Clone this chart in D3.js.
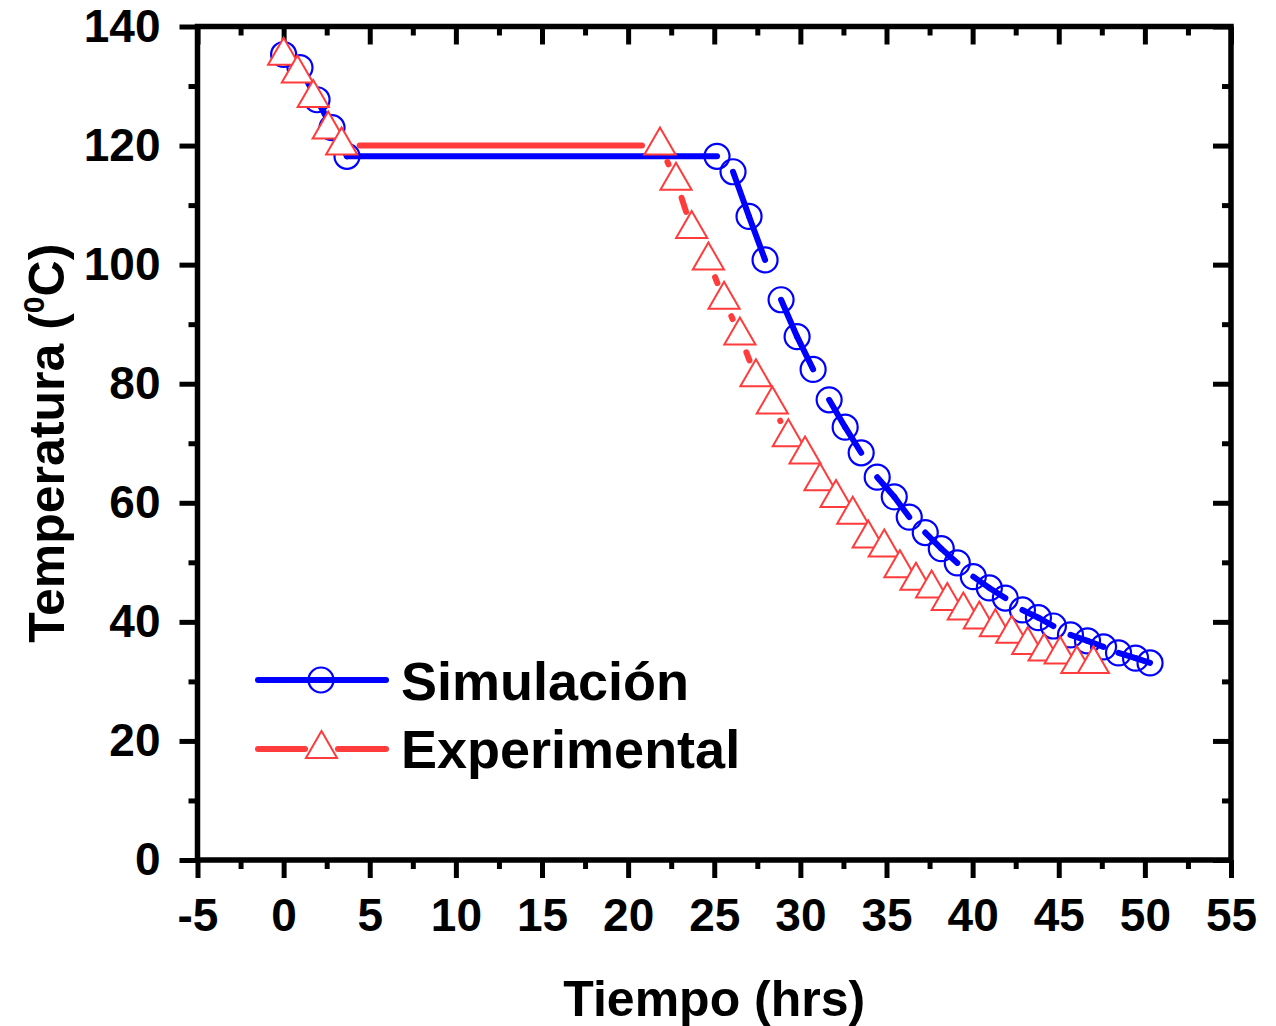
<!DOCTYPE html>
<html>
<head>
<meta charset="utf-8">
<script src="https://cdn.jsdelivr.net/npm/d3@7"></script>
<style>
    body { margin: 0; background: #fff; }
    svg { display: block; font-family: "Liberation Sans", Arial, sans-serif; font-weight: bold; }
    .axis text { font-size: 46px; font-weight: bold; fill: #000; font-family: "Liberation Sans", Arial, sans-serif; }
    .axis line { stroke: #000; stroke-width: 5; }
    .axis .domain { display: none; }
</style>
</head>
<body>
<svg width="1276" height="1026"></svg>
<script>
// Simulación (hrs, °C)
let simTime = [0, 0.95, 1.94, 2.81, 3.68, 25.16, 26.09, 27.02, 27.95, 28.88, 29.81, 30.74, 31.67, 32.60,
    33.53, 34.46, 35.45, 36.32, 37.25, 38.18, 39.11, 40.04, 40.97, 41.90, 42.89, 43.82, 44.69, 45.68,
    46.67, 47.60, 48.47, 49.46, 50.30];
let simTemp = [135.3, 133.1, 127.7, 123.0, 118.2, 118.2, 115.6, 108.1, 100.8, 94.1, 87.9, 82.4, 77.3, 72.7,
    68.4, 64.3, 61.0, 57.6, 55.0, 52.3, 49.9, 47.6, 45.7, 44.0, 42.0, 40.7, 39.3, 37.8,
    36.8, 35.8, 34.8, 33.9, 33.1];

// Experimental
let expTime = [0, 0.8, 1.72, 2.59, 3.37, 21.85, 22.78, 23.69, 24.66, 25.57, 26.49, 27.42, 28.37, 29.30,
    30.27, 31.14, 32.07, 33.04, 33.94, 34.87, 35.78, 36.71, 37.62, 38.53, 39.46, 40.39, 41.32, 42.27,
    43.20, 44.15, 45.08, 46.05, 47.01];
let expTemp = [135.1, 132.1, 128.0, 122.7, 120.0, 120.0, 114.1, 106.0, 100.7, 94.1, 88.1, 81.1, 76.5, 71.0,
    68.1, 63.6, 60.8, 58.0, 54.0, 52.5, 49.0, 46.9, 45.6, 43.5, 41.9, 40.4, 39.1, 38.0,
    36.1, 35.0, 34.5, 32.9, 32.9];

let xTicks = [-5, 0, 5, 10, 15, 20, 25, 30, 35, 40, 45, 50, 55];
let yTicks = [0, 20, 40, 60, 80, 100, 120, 140];
let seriesNames = ["Simulación", "Experimental"];

let blue = "#0000ff", red = "#ff3b3b";

let svg = d3.select("svg"),
    margin = {top: 26.5, right: 45, bottom: 166, left: 197.5},
    width = +svg.attr("width") - margin.left - margin.right,
    height = +svg.attr("height") - margin.top - margin.bottom;

let x = d3.scaleLinear().domain([-5, 55]).range([0, width]),
    y = d3.scaleLinear().domain([0, 140]).range([height, 0]);

let xMinor = d3.range(-2.5, 55, 5),
    yMinor = d3.range(10, 140, 20);

let g = svg.append("g")
    .attr("transform", "translate(" + margin.left + "," + margin.top + ")");

// axes: bottom/left outward, top/right inward
g.append("g").attr("class", "axis")
    .attr("transform", "translate(0," + height + ")")
    .call(d3.axisBottom(x).tickValues(xTicks).tickSize(18).tickSizeOuter(0).tickPadding(20)
        .tickFormat(d => String(d)))
    .selectAll("text").attr("dy", "0.71em");
g.append("g").attr("class", "axis")
    .attr("transform", "translate(0," + height + ")")
    .call(d3.axisBottom(x).tickValues(xMinor).tickSize(9).tickSizeOuter(0).tickFormat(""));
g.append("g").attr("class", "axis")
    .call(d3.axisTop(x).tickValues(xTicks).tickSize(-18).tickSizeOuter(0).tickFormat(""));
g.append("g").attr("class", "axis")
    .call(d3.axisTop(x).tickValues(xMinor).tickSize(-9).tickSizeOuter(0).tickFormat(""));

g.append("g").attr("class", "axis")
    .call(d3.axisLeft(y).tickValues(yTicks).tickSize(18).tickSizeOuter(0).tickPadding(19));
g.append("g").attr("class", "axis")
    .call(d3.axisLeft(y).tickValues(yMinor).tickSize(9).tickSizeOuter(0).tickFormat(""));
g.append("g").attr("class", "axis")
    .attr("transform", "translate(" + width + ",0)")
    .call(d3.axisRight(y).tickValues(yTicks).tickSize(-18).tickSizeOuter(0).tickFormat(""));
g.append("g").attr("class", "axis")
    .attr("transform", "translate(" + width + ",0)")
    .call(d3.axisRight(y).tickValues(yMinor).tickSize(-9).tickSizeOuter(0).tickFormat(""));

g.append("rect")
    .attr("width", width)
    .attr("height", height)
    .attr("fill", "none")
    .attr("stroke", "#000")
    .attr("stroke-width", 5.5);

let sim = simTime.map((t, i) => ({t: t, v: simTemp[i]}));
let exp = expTime.map((t, i) => ({t: t, v: expTemp[i]}));

// simulation line: drawn in runs, one interval in three left open
let simSegs = [];
for (let i = 0; i < sim.length - 1; i++) {
    if (i === 0 || (i >= 5 && (i - 5) % 3 === 0)) continue;
    simSegs.push([sim[i], sim[i + 1]]);
}
g.selectAll(".simseg")
    .data(simSegs)
    .enter().append("line")
    .attr("class", "simseg")
    .attr("x1", d => x(d[0].t)).attr("y1", d => y(d[0].v))
    .attr("x2", d => x(d[1].t)).attr("y2", d => y(d[1].v))
    .attr("stroke", blue)
    .attr("stroke-width", 6)
    .attr("stroke-linecap", "round");

g.selectAll(".simpt")
    .data(sim)
    .enter().append("circle")
    .attr("class", "simpt")
    .attr("cx", d => x(d.t))
    .attr("cy", d => y(d.v))
    .attr("r", 12.5)
    .attr("fill", "none")
    .attr("stroke", blue)
    .attr("stroke-width", 2.2);

// experimental line with gap to symbol
let gap = 18;
let expSegs = [];
for (let i = 0; i < exp.length - 1; i++) {
    let x1 = x(exp[i].t), y1 = y(exp[i].v), x2 = x(exp[i + 1].t), y2 = y(exp[i + 1].v);
    let len = Math.hypot(x2 - x1, y2 - y1);
    if (len <= 2 * gap) continue;
    let ux = (x2 - x1) / len, uy = (y2 - y1) / len;
    expSegs.push([x1 + ux * gap, y1 + uy * gap, x2 - ux * gap, y2 - uy * gap]);
}
g.selectAll(".expseg")
    .data(expSegs)
    .enter().append("line")
    .attr("class", "expseg")
    .attr("x1", d => d[0]).attr("y1", d => d[1])
    .attr("x2", d => d[2]).attr("y2", d => d[3])
    .attr("stroke", red)
    .attr("stroke-width", 6)
    .attr("stroke-linecap", "round");

let tri = d3.symbol().type(d3.symbolTriangle).size(420);
g.selectAll(".exppt")
    .data(exp)
    .enter().append("path")
    .attr("class", "exppt")
    .attr("transform", d => "translate(" + x(d.t) + "," + y(d.v) + ")")
    .attr("d", tri)
    .attr("fill", "#fff")
    .attr("stroke", red)
    .attr("stroke-width", 2);

// legend
let legend = svg.append("g").attr("transform", "translate(258,680)");
legend.append("line")
    .attr("x1", 0).attr("x2", 128).attr("y1", 0).attr("y2", 0)
    .attr("stroke", blue).attr("stroke-width", 6).attr("stroke-linecap", "round");
legend.append("circle")
    .attr("cx", 63).attr("cy", 0).attr("r", 12.5)
    .attr("fill", "none").attr("stroke", blue).attr("stroke-width", 2.2);
legend.append("text")
    .attr("x", 143).attr("y", 20)
    .attr("font-size", 54)
    .text(seriesNames[0]);

let leg2 = legend.append("g").attr("transform", "translate(0,69)");
leg2.append("line")
    .attr("x1", 0).attr("x2", 47).attr("y1", 0).attr("y2", 0)
    .attr("stroke", red).attr("stroke-width", 6).attr("stroke-linecap", "round");
leg2.append("line")
    .attr("x1", 80).attr("x2", 128).attr("y1", 0).attr("y2", 0)
    .attr("stroke", red).attr("stroke-width", 6).attr("stroke-linecap", "round");
leg2.append("path")
    .attr("transform", "translate(63.5,0)")
    .attr("d", tri)
    .attr("fill", "#fff").attr("stroke", red).attr("stroke-width", 2);
leg2.append("text")
    .attr("x", 143).attr("y", 19)
    .attr("font-size", 54)
    .text(seriesNames[1]);

// axis titles
svg.append("text")
    .attr("x", margin.left + width / 2)
    .attr("y", 1016)
    .attr("text-anchor", "middle")
    .attr("font-size", 50)
    .text("Tiempo (hrs)");

let yTitle = svg.append("text")
    .attr("transform", "translate(64," + (margin.top + height / 2) + ") rotate(-90)")
    .attr("text-anchor", "middle")
    .attr("font-size", 50);
yTitle.append("tspan").text("Temperatura (");
yTitle.append("tspan").attr("font-size", 30).attr("dy", -20).text("0");
yTitle.append("tspan").attr("dy", 20).text("C)");
</script>
</body>
</html>
